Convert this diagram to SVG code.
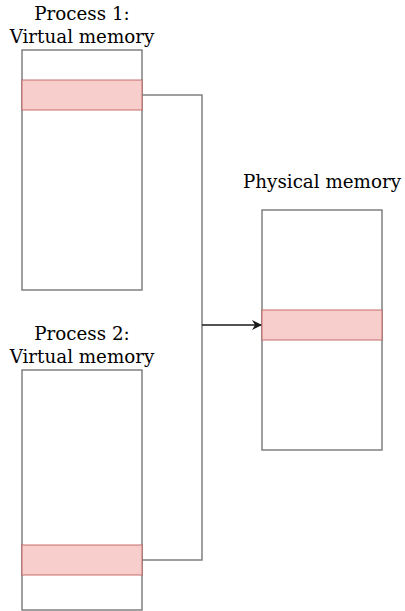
<svg xmlns="http://www.w3.org/2000/svg" width="405" height="611" viewBox="0 0 405 611">
<style>
.box{fill:#fff;stroke:#808080;stroke-width:1.5}
.seg{fill:#f8cecc;stroke:#b85450;stroke-opacity:0.55;stroke-width:1.5}
.lbl{font-family:"DejaVu Serif","Liberation Serif",serif;font-size:18.3px;fill:#000;text-anchor:middle}
.wire{fill:none;stroke:#808080;stroke-width:1.5}
</style>
<defs>
<marker id="arr" viewBox="0 0 10 10" refX="9" refY="5" markerWidth="10" markerHeight="10" markerUnits="userSpaceOnUse" orient="auto">
<path d="M0,0 L10,5 L0,10 L3,5 Z" fill="#1a1a1a"/>
</marker>
</defs>
<g id="process1">
<text class="lbl" x="82" y="20">Process 1:</text>
<text class="lbl" x="82" y="43">Virtual memory</text>
<rect class="box" x="22" y="50" width="120" height="240"/>
<rect class="seg" x="22" y="80" width="120" height="30"/>
</g>
<g id="process2">
<text class="lbl" x="82" y="340">Process 2:</text>
<text class="lbl" x="82" y="363">Virtual memory</text>
<rect class="box" x="22" y="370" width="120" height="240"/>
<rect class="seg" x="22" y="545" width="120" height="30"/>
</g>
<g id="physical">
<text class="lbl" x="322" y="188">Physical memory</text>
<rect class="box" x="262" y="210" width="120" height="240"/>
<rect class="seg" x="262" y="310" width="120" height="30"/>
</g>
<g id="connectors">
<path class="wire" d="M142,95 H202 V560 H142"/>
<path d="M202,325 H261" fill="none" stroke="#1a1a1a" stroke-width="1.5" marker-end="url(#arr)"/>
</g>
</svg>
